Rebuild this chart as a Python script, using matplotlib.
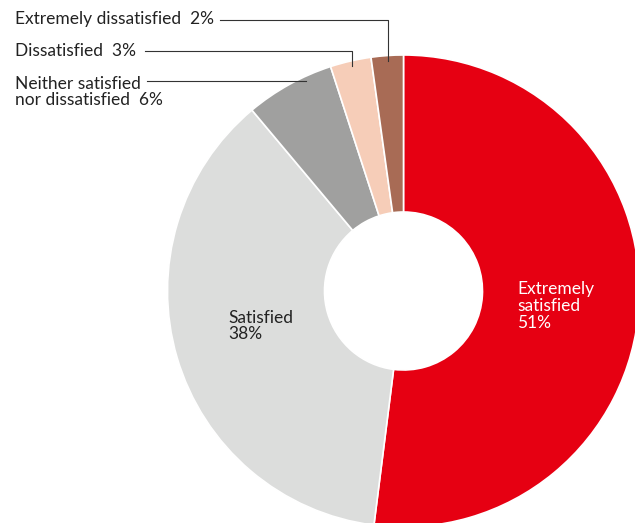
import matplotlib
matplotlib.use('Agg')
import matplotlib.pyplot as plt

categories = ['Extremely satisfied', 'Satisfied', 'Neither satisfied nor dissatisfied',
              'Dissatisfied', 'Extremely dissatisfied']
# wedge sizes as drawn in the picture, and the printed labels
shares = [52.0, 36.9, 6.1, 2.8, 2.2]
labels_pct = [51, 38, 6, 3, 2]
colors = ['#E60012', '#DCDDDC', '#A0A09F', '#F6CDB8', '#A86B55']

plt.rcParams['font.family'] = ['Lato', 'DejaVu Sans']

W, H = 635, 523
fig = plt.figure(figsize=(W / 100, H / 100), dpi=100)
ax = fig.add_axes([0, 0, 1, 1])

cx, cy = 403.5, H - 291
R, r_in = 236, 79
ax.pie(shares, colors=colors, startangle=90, counterclock=False,
       center=(cx, cy), radius=R, frame=True,
       wedgeprops=dict(width=R - r_in, edgecolor='white', linewidth=1.2))
ax.set_xlim(0, W)
ax.set_ylim(0, H)
ax.set_aspect('equal')
ax.axis('off')

fs = 12.5
txt = '#222222'
# inside labels
ax.text(228, H - 326, f'{categories[1]}\n{labels_pct[1]}%', fontsize=fs, color=txt,
        va='center', ha='left', linespacing=1.05)
ax.text(517, H - 306, 'Extremely\nsatisfied\n%d%%' % labels_pct[0], fontsize=fs, color='white',
        va='center', ha='left', linespacing=1.05)

# outside labels with leader lines
lc = '#333333'
ax.text(15, H - 19, f'{categories[4]}  {labels_pct[4]}%', fontsize=fs, color=txt, va='center')
ax.plot([220, 388, 388], [H - 20, H - 20, H - 61], color=lc, lw=0.8)
ax.text(15, H - 51, f'{categories[3]}  {labels_pct[3]}%', fontsize=fs, color=txt, va='center')
ax.plot([145, 352, 352], [H - 51, H - 51, H - 66], color=lc, lw=0.8)
ax.text(15, H - 92, 'Neither satisfied\nnor dissatisfied  %d%%' % labels_pct[2], fontsize=fs,
        color=txt, va='center', linespacing=1.05)
ax.plot([147, 306], [H - 81, H - 81], color=lc, lw=0.8)

fig.savefig('out.png', dpi=100)
